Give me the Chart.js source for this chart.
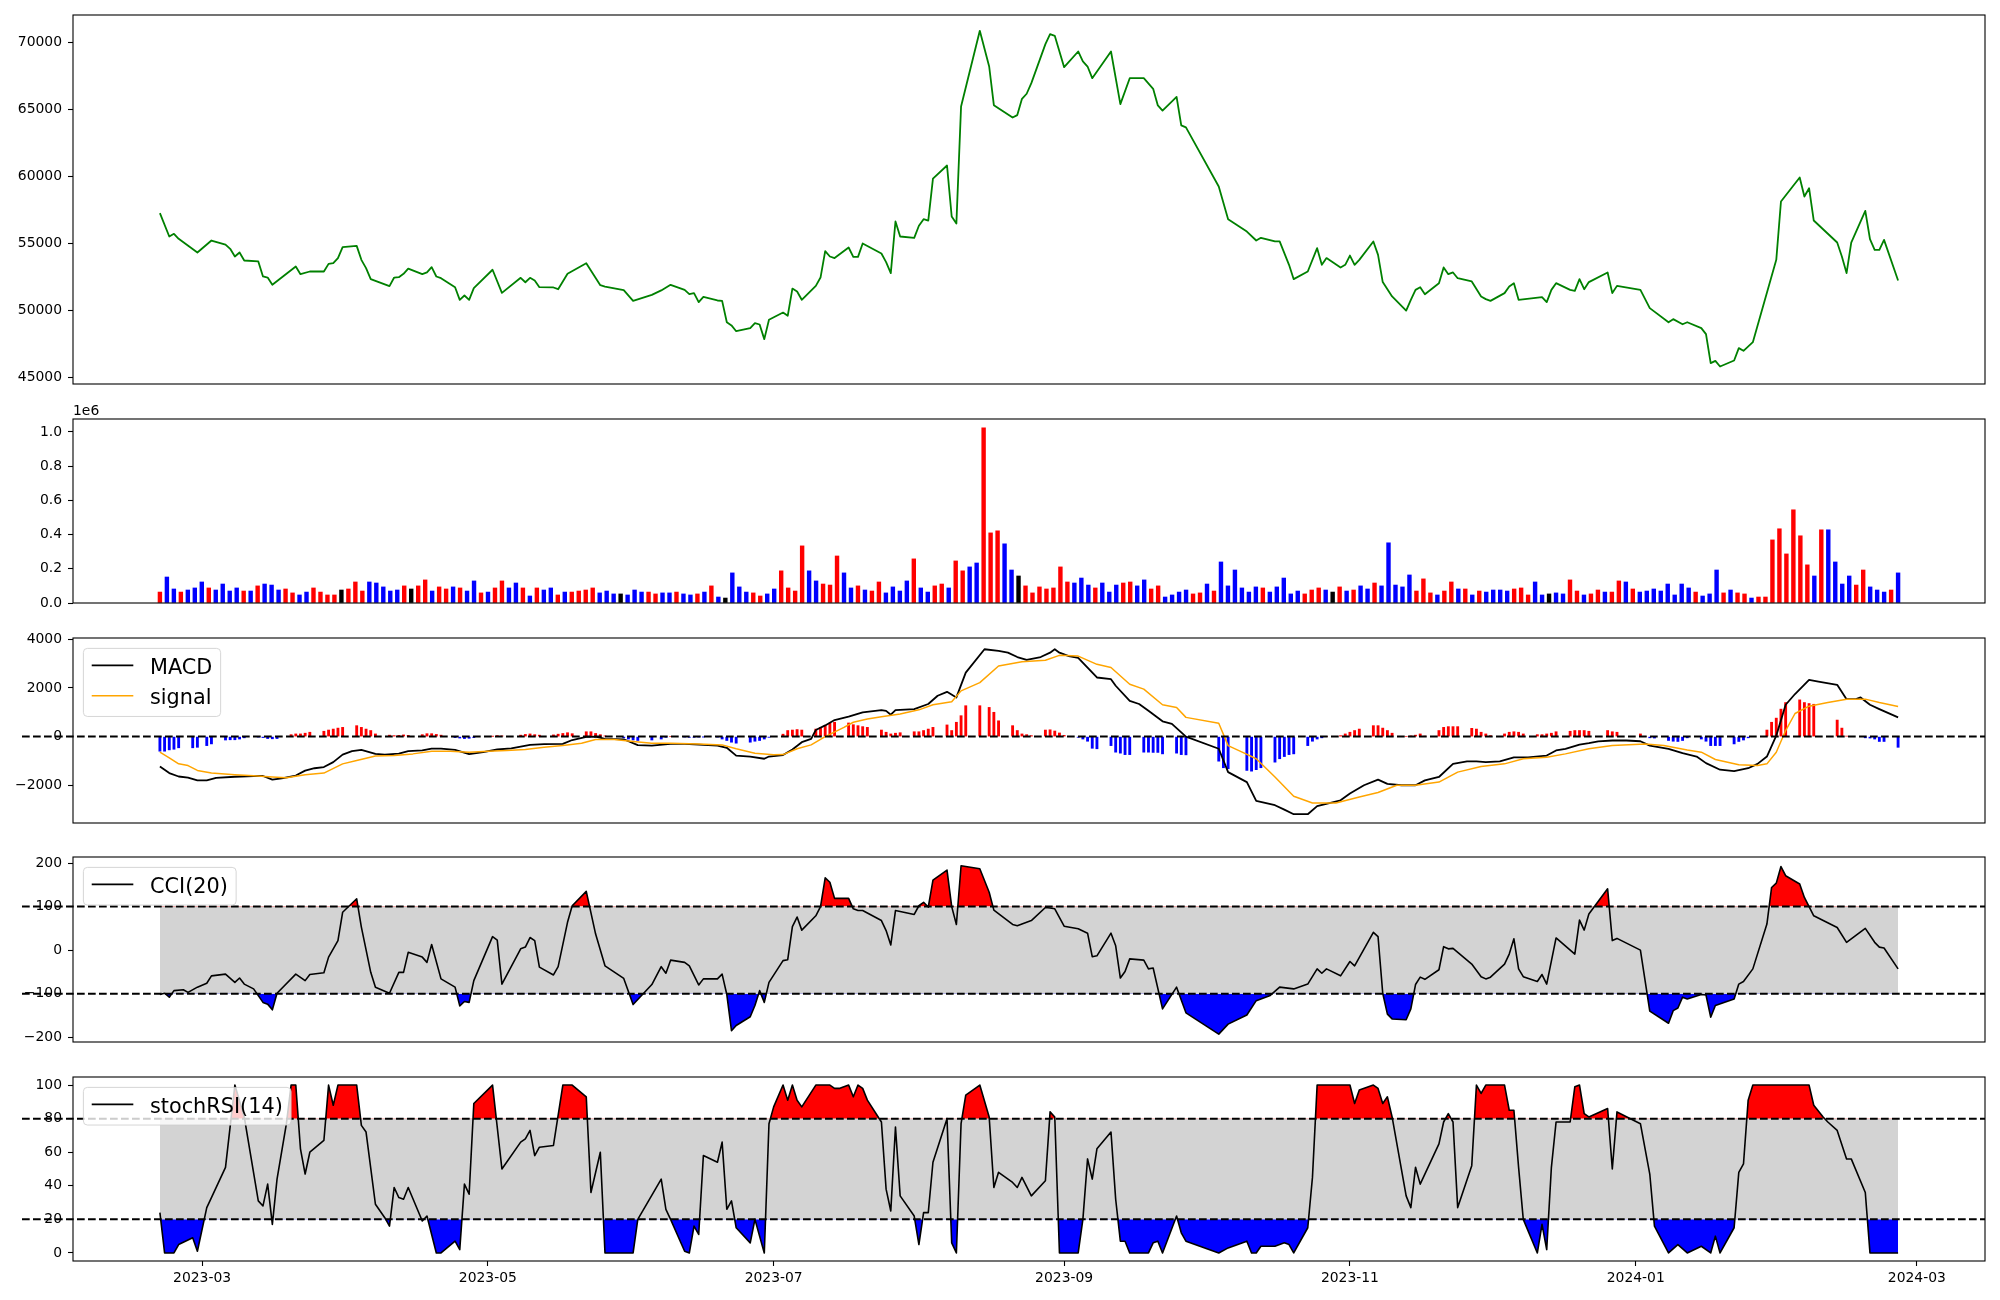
<!DOCTYPE html>
<html>
<head>
<meta charset="utf-8">
<title>price / volume / MACD / CCI / stochRSI</title>
<script src="https://cdn.jsdelivr.net/npm/chart.js@4.4.1/dist/chart.umd.min.js"></script>
<style>
  html, body { margin: 0; background: #fff; }
  #wrap { position: relative; width: 2000px; height: 1300px; overflow: hidden; background: #fff; }
  #wrap canvas { position: absolute; left: 0; }
</style>
</head>
<body>
<div id="wrap">
  <canvas id="priceChart"></canvas>
  <canvas id="volumeChart"></canvas>
  <canvas id="macdChart"></canvas>
  <canvas id="cciChart"></canvas>
  <canvas id="stochChart"></canvas>
</div>
<script>
// ---- calendar (days are counted from 2023-03-01) ----
const firstDate = "2023-02-20";
const lastDate = "2024-02-26";
const holidays = ["2023-03-01", "2023-05-01", "2023-05-05", "2023-05-29", "2023-06-06", "2023-08-15",
  "2023-09-28", "2023-09-29", "2023-10-02", "2023-10-03", "2023-10-09", "2023-12-25", "2023-12-29",
  "2024-01-01", "2024-02-09", "2024-02-12"];
const tickLabels = ["2023-03", "2023-05", "2023-07", "2023-09", "2023-11", "2024-01", "2024-03"];

// ---- price (green line), read at its corners ----
const priceDays = [-9,-7,-6,-5,-1,2,5,6,7,8,9,12,13,14,15,20,21,23,26,27,28,29,30,33,34,35,36,40,41,42,43,44,47,48,49,50,51,54,55,56,57,58,62,64,68,69,70,71,72,75,76,78,82,85,86,90,92,96,98,100,103,104,105,106,107,110,111,112,113,114,117,118,119,120,121,124,125,126,127,128,131,132,133,134,135,138,139,140,141,145,146,147,148,149,152,153,154,155,156,159,160,161,162,166,168,169,173,174,175,176,177,180,181,182,183,184,187,188,189,190,194,196,198,201,203,204,205,208,209,210,217,219,223,225,226,229,230,232,233,236,238,239,240,243,244,245,246,247,250,251,252,254,257,258,259,260,261,264,265,266,267,268,271,273,274,275,278,279,280,281,286,287,288,289,292,293,294,295,296,300,301,302,307,309,313,314,316,317,320,321,322,323,324,327,328,329,331,336,337,341,342,343,344,349,350,351,352,355,356,357,358,359,362];
const priceVals = [57250,55510,55710,55340,54320,55210,54910,54590,54020,54320,53720,53650,52530,52450,51910,53270,52700,52900,52900,53470,53520,53900,54720,54810,53770,53150,52330,51810,52450,52480,52730,53120,52700,52830,53220,52530,52400,51730,50790,51110,50790,51660,53030,51310,52430,52100,52430,52230,51730,51710,51580,52730,53520,51880,51780,51510,50710,51160,51490,51910,51530,51210,51290,50620,51010,50740,50710,49120,48880,48450,48680,49050,48950,47860,49300,49840,49600,51630,51410,50790,51830,52450,54420,54020,53900,54690,53990,53990,54990,54240,53600,52780,56630,55510,55410,56310,56800,56700,59830,60800,57000,56480,65200,70840,68180,65300,64380,64560,65770,66150,66940,69850,70590,70470,69300,68130,69300,68560,68180,67310,69300,65380,67310,67310,66520,65280,64900,65920,63790,63640,59240,56800,55880,55210,55410,55140,55140,53400,52330,52900,54640,53400,53900,53200,53400,54090,53400,53770,55140,54140,52110,51040,49990,50790,51530,51730,51210,52030,53200,52700,52830,52400,52160,51040,50840,50710,51290,51780,52030,50790,50990,50620,51530,52030,51530,51460,52330,51580,52110,52830,51290,51830,51530,50170,49120,49350,48970,49120,48680,48230,46070,46240,45820,46270,47190,46990,47630,53770,58120,59910,58490,59110,56700,55060,54020,52780,55060,57420,55310,54520,54520,55260,52230];

// ---- volume bars, one per trading day, evenly spaced ----
const volume = [64000,152000,82000,64000,76000,88000,123000,88000,76000,111000,
  70000,88000,70000,70000,100000,111000,105000,76000,82000,59000,
  47000,64000,88000,64000,47000,47000,76000,82000,123000,70000,
  123000,117000,94000,70000,76000,100000,82000,100000,135000,70000,
  94000,82000,94000,88000,70000,129000,59000,64000,88000,129000,
  88000,117000,88000,41000,88000,76000,88000,47000,64000,64000,
  70000,76000,88000,59000,70000,53000,53000,47000,76000,64000,
  64000,53000,59000,59000,64000,53000,47000,53000,64000,100000,
  35000,29000,176000,94000,64000,59000,41000,53000,82000,188000,
  88000,70000,334000,188000,129000,111000,105000,275000,176000,88000,
  100000,76000,70000,123000,59000,94000,70000,129000,258000,88000,
  64000,100000,111000,88000,246000,188000,211000,234000,1025000,410000,
  422000,346000,193000,158000,100000,59000,94000,82000,88000,
  211000,123000,117000,146000,105000,88000,117000,64000,105000,117000,
  123000,100000,135000,82000,100000,35000,47000,64000,76000,53000,
  59000,111000,70000,240000,100000,193000,88000,64000,94000,88000,
  64000,94000,146000,53000,70000,53000,76000,88000,76000,64000,
  94000,70000,76000,100000,82000,117000,100000,352000,105000,94000,
  164000,70000,141000,59000,47000,70000,123000,82000,82000,47000,
  70000,64000,76000,76000,70000,82000,88000,47000,123000,47000,
  53000,59000,53000,135000,70000,47000,53000,76000,64000,64000,
  129000,123000,82000,64000,70000,82000,70000,111000,47000,111000,
  88000,64000,41000,53000,193000,59000,76000,59000,53000,29000,
  35000,35000,369000,434000,287000,545000,393000,223000,158000,428000,
  428000,240000,111000,158000,105000,193000,94000,76000,64000,76000,
  176000];
// r = up day, b = down day, k = unchanged
const volumeColor = "rbbrbbbrbbbbrbrbbbrrbbrrrrkrrrbbbbbrkrrbrrbrbbrbrrbbrbrbbrbrrrrbbbkbbbrrbbrbbrbrbkbbbrrbbrrrrbbrrrbbrbrrbbbbrbbrrbrrbbrrrbbkrrrrr" +
  "rrbbbrbbbrrbbrrbbbbrrbrbbbbbbrbbbbbrrrbkrbrbbrbbbbbrrrbrrbrbrbbbbrrrbbkbbrrbrrbrrbrbbbbbbbbrbbbrbrrbrrrrrrrrbrbbbbrrbbbrb";

// ---- MACD panel ----
const macdDays = [-9,-7,-5,-3,-1,1,3,7,11,13,15,17,20,22,24,26,28,30,32,34,37,39,42,44,47,49,51,54,57,60,63,66,70,73,77,79,82,84,86,90,93,96,100,103,106,110,112,114,117,120,121,124,126,128,130,131,133,135,138,141,145,146,147,148,152,155,157,159,161,163,167,170,172,174,176,179,181,182,183,185,187,189,191,194,195,198,200,202,205,207,210,217,219,223,225,229,231,233,236,238,243,245,248,251,253,256,259,261,264,267,270,272,274,277,280,283,287,289,291,294,296,298,301,304,307,309,313,316,319,321,324,327,330,332,334,336,338,340,343,345,349,351,353,354,356,358,362];
const macdVals = [-1230,-1500,-1640,-1690,-1800,-1800,-1700,-1650,-1620,-1620,-1770,-1720,-1600,-1400,-1300,-1250,-1050,-740,-600,-545,-710,-740,-700,-600,-570,-490,-490,-545,-720,-640,-530,-480,-340,-310,-300,-140,-15,0,-95,-110,-350,-370,-300,-300,-330,-370,-460,-780,-820,-910,-820,-760,-530,-230,-95,270,460,680,820,1000,1090,1060,900,1090,1130,1340,1680,1840,1610,2630,3590,3520,3450,3270,3150,3270,3450,3590,3450,3310,3240,2840,2430,2360,2090,1470,1340,1060,630,520,0,-500,-1460,-1870,-2640,-2820,-3000,-3190,-3190,-2860,-2620,-2340,-2000,-1770,-1940,-2000,-2000,-1800,-1660,-1120,-1020,-1020,-1050,-1020,-850,-850,-780,-570,-500,-330,-270,-200,-160,-160,-190,-370,-500,-680,-820,-1090,-1360,-1420,-1300,-1120,-820,40,1310,1750,2330,2260,2130,1540,1540,1610,1310,1130,790];
const signalDays = [-9,-7,-5,-3,-1,2,7,11,15,18,22,26,30,33,37,41,45,49,53,57,61,65,69,73,77,81,84,88,92,96,100,106,111,114,118,122,124,127,130,133,137,139,142,145,149,153,156,160,162,166,170,175,180,183,187,191,194,198,201,205,208,210,217,219,222,225,229,233,237,242,247,251,255,259,264,268,273,278,282,287,291,296,301,308,312,317,320,323,328,332,334,336,338,340,343,347,351,355,358,362];
const signalVals = [-640,-870,-1120,-1190,-1390,-1500,-1570,-1610,-1660,-1690,-1570,-1500,-1120,-980,-800,-780,-710,-600,-600,-640,-600,-570,-530,-440,-370,-270,-120,-120,-200,-270,-270,-300,-340,-500,-680,-750,-740,-500,-340,0,380,590,720,820,930,1100,1310,1430,1880,2220,2900,3080,3140,3340,3310,2970,2840,2150,1950,1310,1200,790,550,-370,-640,-910,-1660,-2450,-2730,-2730,-2480,-2300,-2000,-2000,-1870,-1460,-1230,-1120,-910,-850,-710,-500,-370,-300,-370,-550,-640,-940,-1160,-1190,-1120,-640,250,950,1250,1400,1540,1540,1400,1240];
// histogram, one bar per trading day
const macdHist = [-600,-600,-545,-520,-460,-460,-440,-370,-300,
  -140,-130,-130,-100,-50, -20,-40,-80,-90,-80, 80,110,110,140,180, 220,270,310,350,380,
  450,380,310,250,110, 60,40,50,70,50, 80,120,120,90,60, -40,-60,-80,-70,-40,
  10,40,30, 60,90,110,80,60, 70,100,130,160,120, 200,200,130,80,30,
  -50,-100,-140,-160, -140, -100,-30,0, -20,-30,-30,-20,-10, -20,-100,-160,-230,-270, -230,-190,-160,-100,-30,
  100,250,270,290,270, 310,380,450,550,590, 560,490,450,410,380, 270,180,110,140,160, 200,200,250,310,380,
  480,250,590,860,1270, 1270, 1200,1000,650, 450,250,110,80,40, 270,280,230,150,50,
  -30,-100,-190,-480,-500, -370,-640,-680,-740,-740, -640,-640,-650,-650,-710, -680,-740,-750,
  -1010,-1280,-1320, -1390,-1420,-1360,-1280, -1050,-910,-820,-740,-710, -370,-190,-100,-50,0,
  40,110,180,250,310, 450,450,350,250,140, 0,30,60,110,20, 250,380,410,410,410, 340,310,180,110,40,
  110,180,200,180,110, 80,80,110,140,200, 220,250,250,250,220, 250,200,180,
  110,0,-50,-60, -160,-190,-200,-160,-50, -100,-190,-370,-370,-370, -300,-200,-140,-50,0,
  270,590,760,1130,1400, 1510,1400,1360,1330, 680,350,20,0, -50,-60,-100,-200,-200, -440];

// ---- CCI(20) ----
const cciDays = [-9,-8,-7,-6,-4,-3,-1,1,2,5,7,8,9,11,13,14,15,16,20,22,23,26,27,29,30,33,34,36,37,40,42,43,44,47,48,49,51,54,55,56,57,58,62,63,64,68,69,70,71,72,75,76,78,79,82,84,86,90,92,96,98,99,100,103,104,106,107,110,111,112,113,114,117,118,119,120,121,124,125,126,127,128,131,132,133,134,135,138,139,140,141,145,146,147,148,149,152,153,154,155,156,159,160,161,162,166,168,169,173,174,177,180,181,182,184,187,189,190,191,194,195,196,197,198,201,202,203,205,208,210,217,219,223,225,228,230,233,236,238,239,240,243,245,246,250,251,252,253,254,257,258,259,260,261,264,265,266,267,271,273,274,275,278,279,280,281,282,285,286,287,289,293,294,295,296,300,301,302,307,309,313,314,315,316,317,320,321,322,323,327,328,329,331,334,335,336,337,338,341,342,344,349,351,355,357,358,359,362];
const cciVals = [-102,-99,-108,-93,-91,-97,-85,-76,-59,-55,-74,-64,-78,-89,-120,-124,-137,-99,-55,-70,-56,-52,-16,22,87,118,53,-51,-85,-99,-51,-51,-5,-16,-28,13,-66,-85,-128,-118,-120,-70,31,23,-78,3,7,29,22,-39,-57,-38,64,102,135,37,-36,-65,-125,-79,-38,-53,-23,-28,-36,-80,-66,-66,-55,-102,-185,-173,-153,-127,-93,-120,-74,-24,-22,54,76,46,79,100,166,156,119,119,95,91,91,68,45,12,91,89,82,102,110,99,161,184,100,59,194,187,133,92,59,56,68,98,97,95,55,49,39,-15,-13,39,10,-64,-49,-20,-23,-43,-41,-135,-85,-144,-193,-170,-149,-116,-104,-85,-89,-78,-43,-53,-43,-59,-26,-36,41,31,-99,-147,-158,-160,-135,-79,-62,-67,-45,8,3,4,-32,-61,-66,-62,-32,-9,26,-43,-61,-72,-56,-78,28,-9,69,46,83,141,22,27,0,-140,-168,-139,-133,-108,-112,-102,-103,-154,-127,-112,-78,-72,-43,60,144,154,192,171,152,121,79,52,18,50,18,7,5,-43];

// ---- stochRSI(14) ----
const stochDays = [-9,-8,-6,-5,-2,-1,1,2,5,7,9,12,13,14,15,16,18,19,20,21,22,23,26,27,28,29,33,34,35,37,39,40,41,42,43,44,47,48,50,51,54,55,56,57,58,62,64,68,69,70,71,72,75,77,79,82,83,85,86,92,93,98,99,100,103,104,105,106,107,110,111,112,113,114,117,118,120,121,122,124,125,126,127,128,131,134,135,136,138,139,140,141,142,145,146,147,148,149,152,153,154,155,156,159,160,161,162,163,166,168,169,170,173,174,175,177,180,181,182,183,187,188,189,190,191,194,195,196,197,198,202,203,204,205,208,209,210,217,219,223,224,225,226,229,231,232,233,236,237,238,245,246,247,250,251,252,253,254,257,258,259,260,264,265,266,267,268,271,272,273,274,278,279,280,281,282,285,286,287,288,289,292,293,294,295,296,300,301,302,307,309,310,313,315,317,320,322,323,324,327,328,329,330,331,343,344,346,347,349,351,352,355,356,362];
const stochVals = [24,0,0,5,9,1,27,33,51,100,81,31,28,41,17,44,77,100,100,62,47,60,67,100,88,100,100,76,72,29,21,16,39,33,32,39,19,22,0,0,7,2,41,35,89,100,50,66,68,73,58,63,64,100,100,93,36,60,0,0,20,44,26,20,1,0,16,11,58,54,66,26,31,15,6,20,0,77,87,100,91,100,91,87,100,100,98,98,100,93,100,98,91,78,38,25,75,34,22,5,24,24,54,80,6,0,77,94,100,81,39,48,42,39,45,34,43,84,81,0,0,20,56,44,62,72,32,7,7,0,0,6,7,0,22,12,7,0,3,7,0,0,4,4,6,5,0,15,45,100,100,89,97,100,98,89,93,81,34,27,51,41,65,78,83,78,27,52,100,95,100,100,85,85,51,20,0,17,2,51,78,78,99,100,83,81,86,50,84,77,47,16,0,5,0,4,0,10,0,15,48,53,91,100,100,88,81,78,73,56,56,36,0,0];

// ---- layout (px) ----
const PLOT_LEFT = 73, PLOT_RIGHT = 1985, PAD = 15, X_AXIS_H = 39;
const X_MIN = -27.55, X_MAX = 380.55;
const TICK_FONT = { family: '"DejaVu Sans"', size: 13.9 };

function dayNum(s) {
  const p = s.split("-").map(Number);
  return (Date.UTC(p[0], p[1] - 1, p[2] || 1) - Date.UTC(2023, 2, 1)) / 864e5;
}
const holidayNums = holidays.map(dayNum);
const tradeDays = [];
for (let t = dayNum(firstDate); t <= dayNum(lastDate); t++) {
  const wd = new Date(Date.UTC(2023, 2, 1) + t * 864e5).getUTCDay();
  if (wd === 0 || wd === 6 || holidayNums.includes(t)) continue;
  tradeDays.push(t);
}
const tickDays = tickLabels.map(dayNum);
const volX = volume.map((v, i) => tradeDays[0] + i * (tradeDays[tradeDays.length - 1] - tradeDays[0]) / (volume.length - 1));

const pts = (xs, ys) => xs.map((x, i) => ({ x: x, y: ys[i] }));
const minus = v => (v < 0 ? "\u2212" + Math.abs(v) : String(v));
const colorOf = { r: "#ff0000", b: "#0000ff", k: "#000000" };

// box round the plot area
const framePlugin = {
  id: "frame",
  afterDraw(chart) {
    const a = chart.chartArea, c = chart.ctx;
    c.save();
    c.strokeStyle = "#000";
    c.lineWidth = 1.1;
    c.strokeRect(a.left, a.top, a.right - a.left, a.bottom - a.top);
    c.restore();
  }
};

// dashed level lines, they start left of the plot like in the original
const hlinePlugin = {
  id: "hlines",
  afterDatasetsDraw(chart, args, opts) {
    const vals = opts.values || [];
    if (!vals.length) return;
    const c = chart.ctx, a = chart.chartArea;
    c.save();
    c.strokeStyle = "#000";
    c.lineWidth = 2;
    c.setLineDash([7.7, 3.3]);
    vals.forEach(v => {
      const y = chart.scales.y.getPixelForValue(v);
      c.beginPath();
      c.moveTo(22, y);
      c.lineTo(a.right, y);
      c.stroke();
    });
    c.restore();
  }
};

// matplotlib style legend box in the upper left corner
const legendPlugin = {
  id: "boxLegend",
  afterDraw(chart, args, opts) {
    const items = opts.items || [];
    if (!items.length) return;
    const c = chart.ctx, a = chart.chartArea, fs = 20.8;
    c.save();
    c.font = fs + 'px "DejaVu Sans"';
    const tw = Math.max(...items.map(it => c.measureText(it.label).width));
    const pad = 0.4 * fs, hl = 2 * fs, htp = 0.8 * fs, rowH = 20, sp = 0.5 * fs;
    const x = a.left + 0.5 * fs, y = a.top + 0.5 * fs;
    const w = pad * 2 + hl + htp + tw;
    const h = pad * 2 + items.length * rowH + (items.length - 1) * sp + 1;
    c.beginPath();
    c.roundRect(x, y, w, h, 4);
    c.fillStyle = "rgba(255,255,255,0.8)";
    c.fill();
    c.strokeStyle = "rgba(204,204,204,0.8)";
    c.lineWidth = 1;
    c.stroke();
    items.forEach((it, i) => {
      const cy = y + 17 + i * (rowH + sp);
      c.beginPath();
      c.strokeStyle = it.color;
      c.lineWidth = it.width;
      c.moveTo(x + pad, cy);
      c.lineTo(x + pad + hl, cy);
      c.stroke();
      c.fillStyle = "#000";
      c.textBaseline = "alphabetic";
      c.fillText(it.label, x + pad + hl + htp, cy + 8.5);
    });
    c.restore();
  }
};

// "1e6" above the volume axis
const offsetPlugin = {
  id: "offsetText",
  afterDraw(chart, args, opts) {
    if (!opts.text) return;
    const c = chart.ctx;
    c.save();
    c.font = '13.9px "DejaVu Sans"';
    c.fillStyle = "#000";
    c.textBaseline = "alphabetic";
    c.fillText(opts.text, chart.chartArea.left, chart.chartArea.top - 4);
    c.restore();
  }
};

Chart.register(framePlugin, hlinePlugin, legendPlugin, offsetPlugin);

function panel(id, top, bottom, cfg) {
  const canvas = document.getElementById(id);
  const withX = !!cfg.xAxis;
  canvas.width = 2000;
  canvas.height = bottom - top + PAD + (withX ? X_AXIS_H : PAD);
  canvas.style.top = (top - PAD) + "px";
  return new Chart(canvas, {
    type: cfg.type || "line",
    data: { datasets: cfg.datasets },
    options: {
      responsive: false,
      animation: false,
      events: [],
      layout: { padding: { top: PAD, bottom: withX ? 0 : PAD, left: 0, right: 2000 - PLOT_RIGHT } },
      plugins: {
        legend: { display: false },
        tooltip: { enabled: false },
        hlines: { values: cfg.hlines || [] },
        boxLegend: { items: cfg.legend || [] },
        offsetText: { text: cfg.offsetText || "" }
      },
      scales: {
        x: {
          type: "linear", min: X_MIN, max: X_MAX, offset: false, display: withX,
          border: { display: false },
          grid: { drawOnChartArea: false, offset: false, tickLength: 5, tickColor: "#000", tickWidth: 1.1 },
          ticks: { autoSkip: false, maxRotation: 0, padding: 4, color: "#000", font: TICK_FONT,
            callback: (v, i) => tickLabels[i] },
          afterBuildTicks: s => { s.ticks = tickDays.map(v => ({ value: v })); },
          // only the bottom panel keeps room for the date labels
          afterFit: s => { s.height = withX ? X_AXIS_H : 0; }
        },
        y: {
          type: "linear", min: cfg.yMin, max: cfg.yMax,
          border: { display: false },
          grid: { drawOnChartArea: false, tickLength: 5, tickColor: "#000", tickWidth: 1.1 },
          ticks: { padding: 6, color: "#000", font: TICK_FONT, callback: cfg.yFmt || minus },
          afterBuildTicks: s => { s.ticks = cfg.yTicks.map(v => ({ value: v })); },
          afterFit: s => { s.width = PLOT_LEFT; }
        }
      }
    }
  });
}

const lineSet = (data, color, width, order) => ({
  type: "line", data: data, borderColor: color, borderWidth: width, pointRadius: 0,
  tension: 0, fill: false, borderJoinStyle: "round", order: order
});

// band plus coloured parts beyond the levels
function levelSets(days, vals, lo, hi) {
  const data = pts(days, vals);
  const band = [{ x: days[0], y: hi }, { x: days[days.length - 1], y: hi }];
  return [
    lineSet(data, "#000", 1.6, 0),
    { type: "line", data: data, borderWidth: 0, pointRadius: 0, order: 1,
      fill: { target: { value: hi }, above: "#ff0000", below: "rgba(0,0,0,0)" } },
    { type: "line", data: data, borderWidth: 0, pointRadius: 0, order: 2,
      fill: { target: { value: lo }, above: "rgba(0,0,0,0)", below: "#0000ff" } },
    { type: "line", data: band, borderWidth: 0, pointRadius: 0, order: 3,
      backgroundColor: "#d3d3d3", fill: { target: { value: lo } } }
  ];
}

// 1) price
panel("priceChart", 15, 384, {
  yMin: 44515, yMax: 72020, yTicks: [45000, 50000, 55000, 60000, 65000, 70000],
  yFmt: v => String(v),
  datasets: [lineSet(pts(priceDays, priceVals), "#008000", 1.8, 0)]
});

// 2) volume
panel("volumeChart", 419, 603, {
  type: "bar",
  yMin: 0, yMax: 1076000, yTicks: [0, 200000, 400000, 600000, 800000, 1000000],
  yFmt: v => (v / 1e6).toFixed(1),
  offsetText: "1e6",
  datasets: [{
    type: "bar", data: pts(volX, volume), barThickness: 3.75, borderWidth: 0,
    backgroundColor: volume.map((v, i) => colorOf[volumeColor[i]])
  }]
});

// 3) MACD
panel("macdChart", 638, 823, {
  type: "bar",
  yMin: -3551, yMax: 4053, yTicks: [-2000, 0, 2000, 4000],
  hlines: [0],
  legend: [{ label: "MACD", color: "#000", width: 1.8 }, { label: "signal", color: "#ffa500", width: 1.5 }],
  datasets: [
    lineSet(pts(signalDays, signalVals), "#ffa500", 1.5, 0),
    lineSet(pts(macdDays, macdVals), "#000", 1.8, 1),
    { type: "bar", data: pts(tradeDays, macdHist), barThickness: 2.2, borderWidth: 0, order: 2,
      backgroundColor: macdHist.map(v => (v >= 0 ? "#ff0000" : "#0000ff")) }
  ]
});

// 4) CCI
panel("cciChart", 857, 1042, {
  yMin: -211, yMax: 214, yTicks: [-200, -100, 0, 100, 200],
  hlines: [100, -100],
  legend: [{ label: "CCI(20)", color: "#000", width: 1.6 }],
  datasets: levelSets(cciDays, cciVals, -100, 100)
});

// 5) stochRSI, with the date axis
panel("stochChart", 1077, 1261, {
  xAxis: true,
  yMin: -4.8, yMax: 104.8, yTicks: [0, 20, 40, 60, 80, 100],
  hlines: [80, 20],
  legend: [{ label: "stochRSI(14)", color: "#000", width: 1.6 }],
  datasets: levelSets(stochDays, stochVals, 20, 80)
});
</script>
</body>
</html>
